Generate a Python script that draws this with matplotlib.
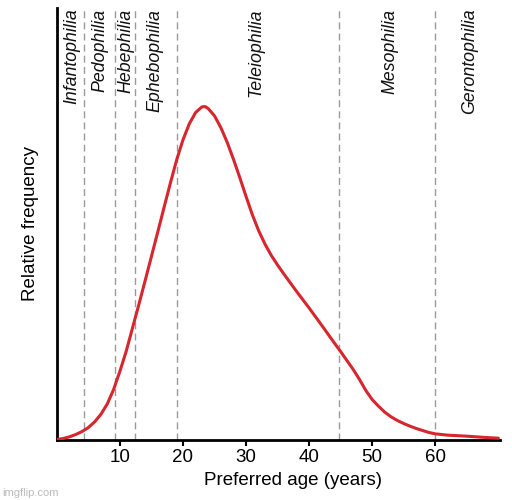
import matplotlib
matplotlib.use("Agg")
import matplotlib.pyplot as plt

plt.rcParams['font.family'] = ['Liberation Sans', 'DejaVu Sans']

# Curve (age in years, relative frequency, peak = 1)
ages = [0, 1, 2, 3, 4, 5, 6, 7, 8, 9, 10, 11, 12, 13, 14, 15, 16, 17, 18,
        19, 20, 21, 22, 23, 23.5, 24, 25, 26, 27, 28, 29, 30, 31, 32, 33,
        34, 35, 36, 38, 40, 42, 44, 45, 46, 47, 48, 49, 50, 51, 52, 53, 54,
        55, 56, 57, 58, 59, 60, 62, 65, 68, 70]
freq = [0.0, 0.003, 0.008, 0.015, 0.024, 0.036, 0.053, 0.076, 0.107, 0.15,
        0.205, 0.265, 0.335, 0.405, 0.477, 0.55, 0.623, 0.697, 0.77, 0.84,
        0.9, 0.948, 0.982, 0.999, 1.0, 0.994, 0.972, 0.937, 0.893, 0.842,
        0.787, 0.73, 0.675, 0.627, 0.587, 0.553, 0.524, 0.497, 0.445, 0.395,
        0.343, 0.29, 0.264, 0.237, 0.21, 0.18, 0.147, 0.12, 0.1, 0.082,
        0.068, 0.057, 0.048, 0.04, 0.033, 0.027, 0.021, 0.017, 0.013, 0.01,
        0.006, 0.004]

# Category boundaries and label positions
boundaries = [4.3, 9.3, 12.4, 19.1, 44.8, 60]
categories = ["Infantophilia", "Pedophilia", "Hebephilia", "Ephebophilia",
              "Teleiophilia", "Mesophilia", "Gerontophilia"]
label_pos = [2.4, 6.8, 11.0, 15.5, 31.5, 52.8, 65.5]
xticks = [10, 20, 30, 40, 50, 60]

fig = plt.figure(figsize=(5.12, 5.0), dpi=100)
ax = fig.add_axes([0.111, 0.121, 0.866, 0.863])

for b in boundaries:
    ax.axvline(b, color="#9a9a9a", lw=1.0, ls=(0, (5, 3)), zorder=1)

ax.plot(ages, freq, color="#d7262e", lw=2.2, solid_joinstyle="round",
        solid_capstyle="round", zorder=3)

for name, xp in zip(categories, label_pos):
    ax.text(xp, 1.294, name, rotation=90, ha="center", va="top",
            fontsize=12.8, style="italic", color="#111111")

ax.set_xlim(0, 70.3)
ax.set_ylim(0, 1.296)
ax.set_xticks(xticks)
ax.set_yticks([])
ax.tick_params(axis="x", length=4, width=1.5, labelsize=13.5, pad=3)
ax.spines["top"].set_visible(False)
ax.spines["right"].set_visible(False)
ax.spines["left"].set_linewidth(2)
ax.spines["bottom"].set_linewidth(2)

ax.set_xlabel("Preferred age (years)", fontsize=13.5)
ax.xaxis.set_label_coords(0.533, -0.075)
ax.set_ylabel("Relative frequency", fontsize=13.5, labelpad=13)

fig.text(0.004, 0.008, "imgflip.com", color="#bbbbbb", fontsize=8)

fig.savefig("out.png", dpi=100)
